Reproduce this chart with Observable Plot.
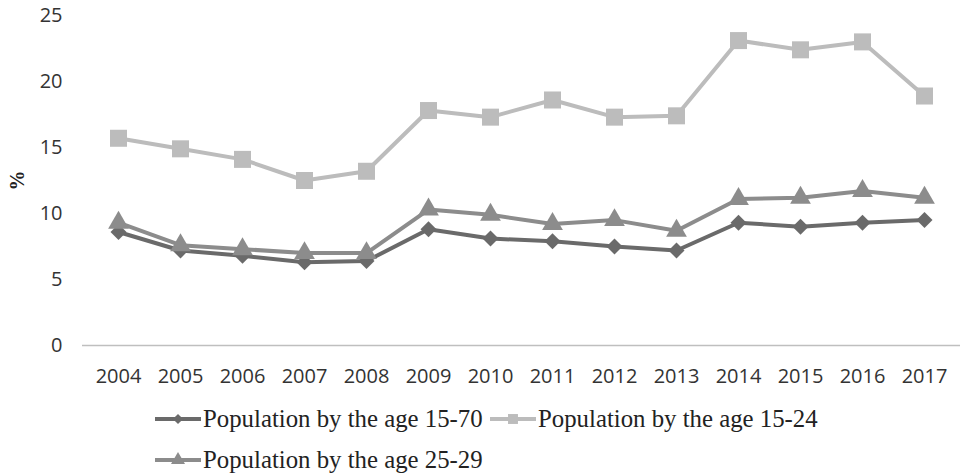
<!DOCTYPE html>
<html>
<head>
<meta charset="utf-8">
<script src="https://cdn.jsdelivr.net/npm/d3@7"></script>
<script src="https://cdn.jsdelivr.net/npm/@observablehq/plot@0.6"></script>
<style>
  html, body { margin: 0; padding: 0; background: #fff; }
  #wrap { position: relative; width: 960px; height: 474px; }
  #chart svg { display: block; }
  .legend-item { position: absolute; display: flex; align-items: center; line-height: 28px;
    font: 24.8px "Liberation Serif", serif; color: #222; white-space: nowrap; }
  .legend-item svg { display: block; margin-right: 2px; }
</style>
</head>
<body>
<div id="wrap">
  <div id="chart"></div>
  <div id="legend"></div>
</div>
<script>
// Years on the horizontal axis
const years = [2004, 2005, 2006, 2007, 2008, 2009, 2010, 2011, 2012, 2013, 2014, 2015, 2016, 2017];

// Series values, %
const age15to70 = [8.6, 7.2, 6.8, 6.3, 6.4, 8.8, 8.1, 7.9, 7.5, 7.2, 9.3, 9.0, 9.3, 9.5];
const age15to24 = [15.7, 14.9, 14.1, 12.5, 13.2, 17.8, 17.3, 18.6, 17.3, 17.4, 23.1, 22.4, 23.0, 18.9];
const age25to29 = [9.3, 7.6, 7.3, 7.0, 7.0, 10.3, 9.9, 9.2, 9.5, 8.7, 11.1, 11.2, 11.7, 11.2];

const yTicks = [0, 5, 10, 15, 20, 25];

const series = [
  {name: "Population by the age 15-70", values: age15to70, color: "#6a6a6a", symbol: "diamond2", r: 7.2, lr: 4.6},
  {name: "Population by the age 15-24", values: age15to24, color: "#bcbcbc", symbol: "square", r: 9.6, lr: 5.6},
  {name: "Population by the age 25-29", values: age25to29, color: "#8c8c8c", symbol: "triangle", r: 7.7, lr: 5.2}
];

// Long-format rows per series
const rows = s => years.map((year, i) => ({year, value: s.values[i], name: s.name}));

// Draw order: 15-24 first, then 15-70, then 25-29 on top
const order = [series[1], series[0], series[2]];

const marks = [
  Plot.ruleY([0], {stroke: "#bfbfbf", strokeWidth: 1.5}),
  Plot.axisX({tickSize: 0, tickPadding: 23, fontSize: 20, fill: "#333", label: null, tickFormat: d => String(d)}),
  Plot.axisY({ticks: yTicks, tickSize: 0, tickPadding: 20, fontSize: 20, fill: "#333", label: null}),
  // rotated unit label beside the y axis
  Plot.text(["%"], {frameAnchor: "left", rotate: -90, dx: -65, dy: 10, text: d => d,
    fontSize: 20, fontWeight: "bold", fontFamily: "'Liberation Serif', serif", fill: "#222"})
];
for (const s of order) {
  const data = rows(s);
  marks.push(Plot.line(data, {x: "year", y: "value", stroke: s.color, strokeWidth: 4}));
  marks.push(Plot.dot(data, {x: "year", y: "value", symbol: () => s.symbol, fill: s.color, stroke: "none", r: s.r}));
}

const chart = Plot.plot({
  width: 960,
  height: 395,
  marginTop: 15,
  marginBottom: 50,
  marginLeft: 82,
  marginRight: 0,
  style: {fontFamily: "'Open Sans', sans-serif", background: "#fff"},
  x: {type: "point", domain: years, padding: 0.5},
  y: {domain: [0, 25]},
  symbol: {type: "identity"},
  marks
});
document.getElementById("chart").appendChild(chart);

// Legend below the plot
const legendPos = [
  {s: series[0], left: 155, top: 405},
  {s: series[1], left: 490, top: 405},
  {s: series[2], left: 155, top: 446}
];
const legend = document.getElementById("legend");
for (const {s, left, top} of legendPos) {
  const item = document.createElement("div");
  item.className = "legend-item";
  item.style.left = left + "px";
  item.style.top = top + "px";
  const sw = d3.create("svg").attr("width", 46).attr("height", 28);
  sw.append("line").attr("x1", 0).attr("x2", 46).attr("y1", 14).attr("y2", 14)
    .attr("stroke", s.color).attr("stroke-width", 4);
  const symMap = {diamond2: d3.symbolDiamond2, square: d3.symbolSquare, triangle: d3.symbolTriangle};
  sw.append("path").attr("transform", "translate(23,14)")
    .attr("d", d3.symbol(symMap[s.symbol], Math.PI * s.lr * s.lr)())
    .attr("fill", s.color);
  item.appendChild(sw.node());
  const label = document.createElement("span");
  label.textContent = s.name;
  item.appendChild(label);
  legend.appendChild(item);
}
</script>
</body>
</html>
